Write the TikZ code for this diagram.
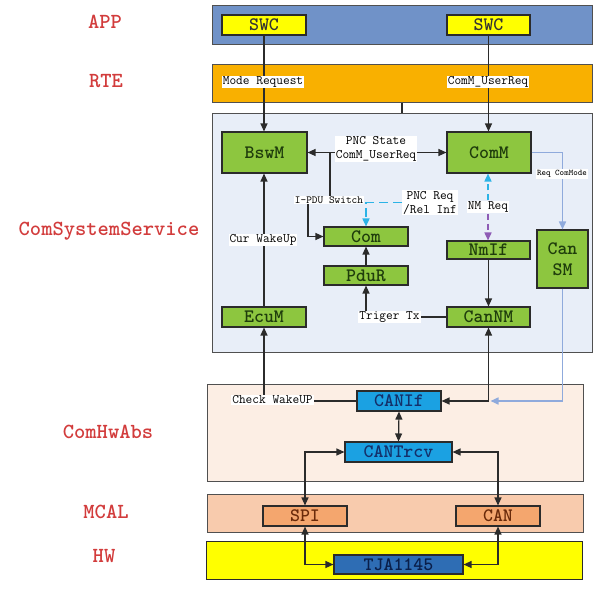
\documentclass[tikz,border=0pt]{standalone}
\usepackage{fontspec}
\usepackage{xcolor}
\usepackage{tikz}
\usetikzlibrary{arrows.meta,positioning,calc}
\definecolor{cApp}{HTML}{7092C8}
\definecolor{cRte}{HTML}{F9B000}
\definecolor{cSvc}{HTML}{E8EEF8}
\definecolor{cMod}{HTML}{8DC63F}
\definecolor{cModTxt}{HTML}{1F3D0C}
\definecolor{cHwAbs}{HTML}{FCEEE4}
\definecolor{cMcal}{HTML}{F8CBAD}
\definecolor{cDrv}{HTML}{F4A66E}
\definecolor{cDrvTxt}{HTML}{6A2A0A}
\definecolor{cIf}{HTML}{1BA1E2}
\definecolor{cIfTxt}{HTML}{14306A}
\definecolor{cChip}{HTML}{2E6DB4}
\definecolor{cChipTxt}{HTML}{0A1F4A}
\definecolor{cHw}{HTML}{FFFF00}
\definecolor{cRed}{HTML}{D23C3C}
\definecolor{cLine}{HTML}{2B2B2B}
\definecolor{cEdge}{HTML}{505050}
\definecolor{cCyan}{HTML}{2BB3E6}
\definecolor{cPurple}{HTML}{8E5BB5}
\definecolor{cSoft}{HTML}{8FAADC}
\tikzset{
  >={Triangle[length=8pt,width=7pt]},
  layer/.style={draw=cEdge, line width=1pt, fill=#1, inner sep=0pt},
  box/.style={draw=cLine, line width=1.1pt, fill=#1, inner sep=0pt, align=center,
              font=\fontsize{19}{21}\selectfont\ttfamily\bfseries},
  flow/.style={->, line width=1.2pt, draw=cLine},
  soft/.style={flow, draw=cSoft, line width=1.6pt},
  lbl/.style={font=\fontsize{13}{14}\selectfont\ttfamily, fill=white, inner sep=1pt, align=center},
  side/.style={font=\fontsize{21.5}{24}\selectfont\ttfamily\bfseries, text=cRed},
}
\begin{document}
\begin{tikzpicture}[x=1pt, y=-1pt]
  \useasboundingbox (0,0) rectangle (616,592);
  % layer bands
  \node[layer=cApp, minimum width=380, minimum height=39] (app) at (402,24.5) {};
  \node[layer=cRte, minimum width=380, minimum height=38] (rte) at (402,83) {};
  \node[layer=cSvc, minimum width=380, minimum height=239] (svc) at (402,232.5) {};
  \node[layer=cHwAbs, minimum width=376, minimum height=97] (hwabs) at (395,432.5) {};
  \node[layer=cMcal, minimum width=376, minimum height=38] (mcal) at (395,513) {};
  \node[layer=cHw, draw=cLine, minimum width=376, minimum height=38] (hw) at (394,560) {};
  \node[side] (lapp) at (105,22) {APP};
  \node[side] (lrte) at (106,81) {RTE};
  \node[side] (lsvc) at (109,231) {ComSystemService};
  \node[side] (lhwabs) at (108,432) {ComHwAbs};
  \node[side] (lmcal) at (106,512) {MCAL};
  \node[side] (lhw) at (104,556) {HW};
  % modules
  \node[box=cHw, text=black!80, minimum width=84, minimum height=20] (swc1) at (264,25) {SWC};
  \node[box=cHw, text=black!80, minimum width=83, minimum height=20] (swc2) at (488.5,25) {SWC};
  \node[box=cMod, text=cModTxt, minimum width=85, minimum height=41] (bswm) at (264.5,152.5) {BswM};
  \node[box=cMod, text=cModTxt, minimum width=84, minimum height=41] (comm) at (489,152.5) {ComM};
  \node[box=cMod, text=cModTxt, minimum width=84, minimum height=19] (com) at (366,236.5) {Com};
  \node[box=cMod, text=cModTxt, minimum width=84, minimum height=19] (pdur) at (366,275.5) {PduR};
  \node[box=cMod, text=cModTxt, minimum width=83, minimum height=18] (nmif) at (488.5,250) {NmIf};
  \node[box=cMod, text=cModTxt, minimum width=51, minimum height=58] (cansm) at (562.5,259) {Can\\SM};
  \node[box=cMod, text=cModTxt, minimum width=84, minimum height=20] (ecum) at (264,317) {EcuM};
  \node[box=cMod, text=cModTxt, minimum width=83, minimum height=20] (cannm) at (488.5,317) {CanNM};
  \node[box=cIf, text=cIfTxt, minimum width=84, minimum height=20] (canif) at (399,401) {CANIf};
  \node[box=cIf, text=cIfTxt, minimum width=107, minimum height=20] (trcv) at (398.5,452) {CANTrcv};
  \node[box=cDrv, text=cDrvTxt, minimum width=84, minimum height=20] (spi) at (305,516) {SPI};
  \node[box=cDrv, text=cDrvTxt, minimum width=84, minimum height=20] (can) at (498,516) {CAN};
  \node[box=cChip, text=cChipTxt, minimum width=129, minimum height=19] (tja) at (398.5,564.5) {TJA1145};
  % connectors
  \draw[flow] (swc1.south) -- (swc1.south |- bswm.north);
  \draw[flow] (swc2.south) -- (swc2.south |- comm.north);
  \draw[flow,-] (rte.south) -- (svc.north);
  \draw[flow,<->] (bswm.east) -- (comm.west);
  \coordinate (sw) at (330,152.5);
  \draw[flow] (sw) -- (330,200) -- (308,200) -- (308,236.5) -- (com.west);
  \draw[flow] (ecum.north) -- (ecum.north |- bswm.south);
  \draw[flow] (pdur.north) -- (com.south);
  \draw[flow] (nmif.south) -- (nmif.south |- cannm.north);
  \draw[flow] (cannm.west) -- (pdur.south |- cannm.west) -- (pdur.south);
  \draw[flow,<->] (canif.east) -- (cannm.south |- canif.east) -- (cannm.south);
  \draw[flow] (canif.west) -- (ecum.south |- canif.west) -- (ecum.south);
  \draw[soft] (comm.east) -- (cansm.north |- comm.east) -- (cansm.north);
  \coordinate (mg) at ($(cannm.south |- canif.east)+(2,0)$);
  \draw[soft] (cansm.south) -- (cansm.south |- canif.east) -- (mg);
  \draw[flow,<->] (canif.south) -- (trcv.north);
  \draw[flow,<->] (trcv.west) -- (spi.north |- trcv.west) -- (spi.north);
  \draw[flow,<->] (trcv.east) -- (can.north |- trcv.east) -- (can.north);
  \draw[flow,<->] (spi.south) -- (spi.south |- tja.west) -- (tja.west);
  \draw[flow,<->] (can.south) -- (can.south |- tja.east) -- (tja.east);
  \node[lbl] (lpncreq) at (430,202.5) {PNC Req\\/Rel Inf};
  \draw[flow, draw=cCyan, line width=1.6pt, dash pattern=on 9pt off 5pt] (lpncreq.west) -- (lpncreq.west -| com.north) -- (com.north);
  \node[lbl] (lnmreq) at (488,207) {NM Req};
  \draw[flow, draw=cCyan, line width=1.6pt, dash pattern=on 6pt off 4pt] (lnmreq.north) -- (lnmreq.north |- comm.south);
  \draw[flow, draw=cPurple, line width=1.6pt, dash pattern=on 6pt off 4pt] (lnmreq.south) -- (lnmreq.south |- nmif.north);
  % labels on the lines
  \node[lbl] (lmode) at (263,82) {Mode Request};
  \node[lbl] (lusr) at (488,82) {ComM\_UserReq};
  \node[lbl] (lpnc) at (376,149) {PNC State\\ComM\_UserReq};
  \node[lbl, font=\fontsize{10.8}{12}\selectfont\ttfamily] (lipdu) at (329,200) {I-PDU Switch};
  \node[lbl] (lcur) at (263,240) {Cur WakeUp};
  \node[lbl] (ltrig) at (389.5,317) {Triger Tx};
  \node[lbl] (lchk) at (272.5,400) {Check WakeUP};
  \node[lbl, font=\fontsize{8.6}{10}\selectfont\ttfamily] (lreq) at (562,174) {Req ComMode};
\end{tikzpicture}
\end{document}
